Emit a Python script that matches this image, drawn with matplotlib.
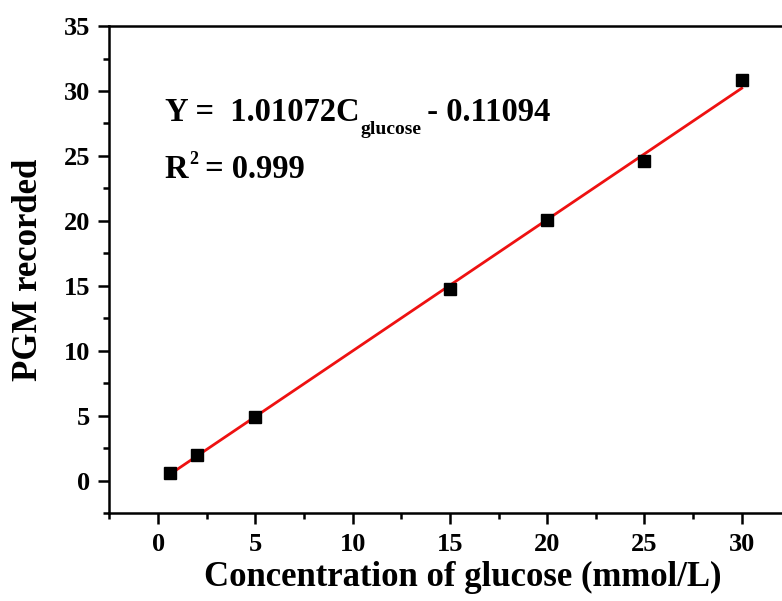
import numpy as np
import matplotlib
matplotlib.use("Agg")
import matplotlib.pyplot as plt
from matplotlib.ticker import MultipleLocator

plt.rcParams["font.family"] = "Liberation Serif"
plt.rcParams["font.weight"] = "bold"

# Glucose concentration (mmol/L) and PGM reading
concentration = [0.6, 2, 5, 15, 20, 25, 30]
pgm_reading = [0.62, 1.96, 4.92, 14.8, 20.1, 24.6, 30.85]

# Linear fit reported on the chart
SLOPE = 1.01072
INTERCEPT = -0.11094
R2 = 0.999

fig = plt.figure(figsize=(7.82, 6.01), dpi=100)
ax = fig.add_axes([0.140, 0.1459, 0.8706, 0.8108])

fit_x = np.array([concentration[0], concentration[-1]])
fit_y = SLOPE * fit_x + INTERCEPT
ax.plot(fit_x, fit_y, color="#ee1111", linewidth=2, zorder=2)
ax.plot(concentration, pgm_reading, linestyle="none", marker="s",
        markersize=8.5, color="black", zorder=3)

ax.set_xlim(-2.5, 32.5)
ax.set_ylim(-2.5, 35)
ax.xaxis.set_major_locator(MultipleLocator(5))
ax.xaxis.set_minor_locator(MultipleLocator(2.5))
ax.yaxis.set_major_locator(MultipleLocator(5))
ax.yaxis.set_minor_locator(MultipleLocator(2.5))
ax.set_xticks([0, 5, 10, 15, 20, 25, 30])

ax.tick_params(which="major", direction="out", length=8, width=1.8,
               labelsize=19, pad=6)
ax.tick_params(which="minor", direction="out", length=4.5, width=1.8)
ax.tick_params(top=False, right=False)
for spine in ax.spines.values():
    spine.set_linewidth(1.8)

ax.set_xlabel("Concentration of glucose (mmol/L)", fontsize=25,
              fontweight="bold")
ax.xaxis.set_label_coords(0.519, -0.098)
ax.set_ylabel("PGM recorded", fontsize=25, fontweight="bold")
ax.yaxis.set_label_coords(-0.094, 0.5)

# fit equation, with a dropped subscript for the concentration term
eq = ax.text(0.35, 27.7, "Y =  1.01072C", fontsize=23.5,
             fontweight="bold", va="baseline", ha="left")
sub = ax.annotate("glucose", xy=(1, 0), xycoords=eq, xytext=(1, -7),
                  textcoords="offset points", fontsize=14,
                  fontweight="bold", va="bottom", ha="left")
ax.annotate(" - 0.11094", xy=(1, 0), xycoords=(sub, eq), xytext=(-2, 0),
            textcoords="offset points", fontsize=23.5, fontweight="bold",
            va="bottom", ha="left")

# R squared with a small raised exponent
r_txt = ax.text(0.35, 23.3, "R", fontsize=23.5, fontweight="bold",
                va="baseline", ha="left")
sup = ax.annotate("2", xy=(1, 1), xycoords=r_txt, xytext=(0.5, 2.5),
                  textcoords="offset points", fontsize=13,
                  fontweight="bold", va="top", ha="left")
ax.annotate(" = %.3f" % R2, xy=(1, 0), xycoords=(sup, r_txt),
            xytext=(-1, 0), textcoords="offset points",
            fontsize=23.5, fontweight="bold", va="bottom", ha="left")

fig.savefig("out.png", dpi=100)
